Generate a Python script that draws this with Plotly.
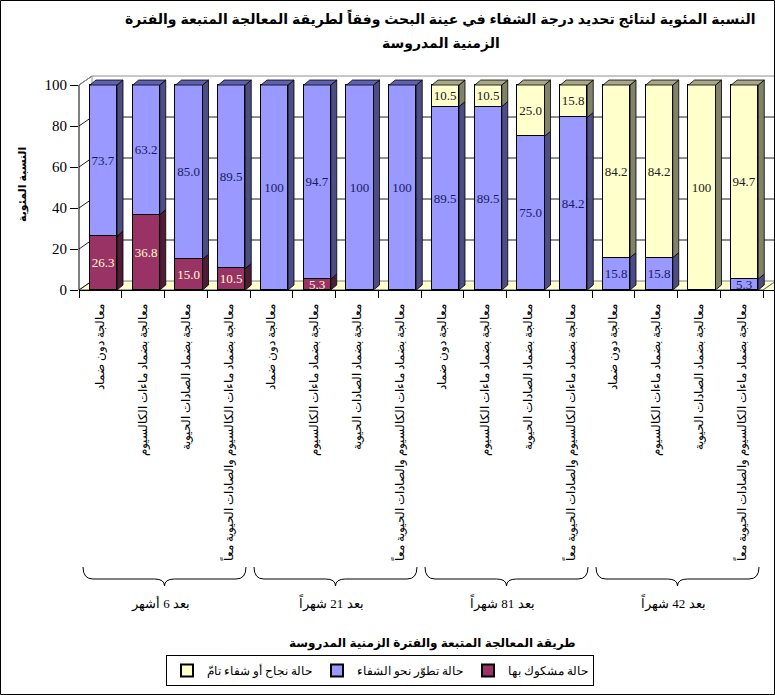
import plotly.graph_objects as go

# ---------------- data ----------------
treatments = [
    "معالجة دون ضماد",
    "معالجة بضماد ماءات الكالسيوم",
    "معالجة بضماد الصادات الحيوية",
    "معالجة بضماد ماءات الكالسيوم والصادات الحيوية معاً",
]
periods = ["بعد 6 أشهر", "بعد 21 شهراً", "بعد 81 شهراً", "بعد 42 شهراً"]
categories = treatments * len(periods)

doubtful = [26.3, 36.8, 15.0, 10.5, 0, 5.3, 0, 0, 0, 0, 0, 0, 0, 0, 0, 0]
progress = [73.7, 63.2, 85.0, 89.5, 100, 94.7, 100, 100, 89.5, 89.5, 75.0, 84.2, 15.8, 15.8, 0, 5.3]
success = [0, 0, 0, 0, 0, 0, 0, 0, 10.5, 10.5, 25.0, 15.8, 84.2, 84.2, 100, 94.7]

series_names = ["حالة مشكوك بها", "حالة تطوّر نحو الشفاء", "حالة نجاح أو شفاء تامّ"]
y_ticks = [0, 20, 40, 60, 80, 100]

title_lines = [
    "النسبة المئوية لنتائج تحديد درجة الشفاء في عينة البحث وفقاً لطريقة المعالجة المتبعة والفترة",
    "الزمنية المدروسة",
]
x_title = "طريقة المعالجة المتبعة والفترة الزمنية المدروسة"
y_title = "النسبة المئوية"

# ---------------- styling ----------------
front_colors = ["#993366", "#9999FF", "#FFFFCC"]
side_colors = ["#4F1C38", "#4D4D85", "#828268"]
top_colors = ["#7A2952", "#6060B0", "#A8A888"]
text_colors = ["#FFFFCC", "#1A1A5C", "#202020"]

W, H = 775, 695
PL, PR, PT, PB = 79, 775, 75, 290  # plot area in pixels
n = len(categories)
px_per_cat = (763 - PL) / n
x_range = [-0.5, -0.5 + (PR - PL) / px_per_cat]
y_top = 104.9
px_per_unit = (PB - PT) / y_top
wdx = 13 / px_per_cat      # wall depth (x units)
wdy = 9 / px_per_unit      # wall depth (y units)
bar_w, bar_off = 0.632, -0.243
sdx = 6 / px_per_cat       # bar depth
sdy = 5 / px_per_unit

SERIF = "Liberation Serif, Times New Roman, DejaVu Serif, serif"
SANS = "Liberation Sans, Arial, DejaVu Sans, sans-serif"


def px2x(px):
    return (px - PL) / (PR - PL)


def py2y(py):
    return (PB - py) / (PB - PT)


def fmt(v):
    if v <= 0:
        return ""
    return "100" if v == 100 else f"{v:.1f}"


fig = go.Figure()
idx = list(range(n))
all_series = [doubtful, progress, success]

for s, vals in enumerate(all_series):
    fig.add_trace(go.Bar(
        x=idx, y=vals, name=series_names[s],
        width=bar_w, offset=bar_off,
        marker=dict(color=front_colors[s], line=dict(color="black", width=1)),
        text=[fmt(v) for v in vals], textposition="inside",
        insidetextanchor="middle", textangle=0, constraintext="none",
        textfont=dict(family=SERIF, size=13, color=text_colors[s]),
        hoverinfo="skip",
    ))

# 3D side and top faces derived from the data
for s in range(3):
    sx, sy, tx, ty = [], [], [], []
    for i in idx:
        base = sum(all_series[k][i] for k in range(s))
        v = all_series[s][i]
        if v <= 0:
            continue
        top = base + v
        xl = i + bar_off
        xr = xl + bar_w
        sx += [xr, xr + sdx, xr + sdx, xr, xr, None]
        sy += [base, base + sdy, top + sdy, top, base, None]
        is_top = all(all_series[k][i] <= 0 for k in range(s + 1, 3))
        if is_top:
            tx += [xl, xl + sdx, xr + sdx, xr, xl, None]
            ty += [top, top + sdy, top + sdy, top, top, None]
    fig.add_trace(go.Scatter(x=sx, y=sy, mode="lines", fill="toself",
                             fillcolor=side_colors[s], line=dict(color="black", width=0.8),
                             hoverinfo="skip", showlegend=False))
    if tx:
        fig.add_trace(go.Scatter(x=tx, y=ty, mode="lines", fill="toself",
                                 fillcolor=top_colors[s], line=dict(color="black", width=0.8),
                                 hoverinfo="skip", showlegend=False))

shapes = []
x_end = x_range[1] + 1
# floor
shapes.append(dict(type="path", xref="x", yref="y", layer="below",
                   path=f"M -0.5,0 L {n-0.5},0 L {n-0.5+wdx},{wdy} L {x_end},{wdy} L {x_end},0 "
                        f"M -0.5,0 L {-0.5+wdx},{wdy} L {n-0.5+wdx},{wdy} L {n-0.5},0 Z",
                   fillcolor="#FFFFCC", line=dict(color="#808080", width=1)))
# back-wall gridlines and left-wall diagonals
for v in y_ticks[1:]:
    shapes.append(dict(type="line", xref="x", yref="y", layer="below",
                       x0=-0.5 + wdx, x1=x_end, y0=v + wdy, y1=v + wdy,
                       line=dict(color="#202020" if v < 100 else "#909090", width=1)))
for v in y_ticks:
    shapes.append(dict(type="line", xref="x", yref="y", layer="below",
                       x0=-0.5, x1=-0.5 + wdx, y0=v, y1=v + wdy,
                       line=dict(color="#202020", width=1)))
shapes.append(dict(type="line", xref="x", yref="y", layer="below",
                   x0=-0.5 + wdx, x1=-0.5 + wdx, y0=wdy, y1=100 + wdy,
                   line=dict(color="#909090", width=1)))
shapes.append(dict(type="line", xref="x", yref="y", layer="below",
                   x0=-0.5 + wdx, x1=-0.5, y0=100 + wdy, y1=100,
                   line=dict(color="#909090", width=1)))
# front-left vertical edge (y axis line)
shapes.append(dict(type="line", xref="paper", yref="y", x0=0, x1=0, y0=0, y1=100,
                   line=dict(color="black", width=1)))
# braces under each period group
y_end, y_mid, y_tip = py2y(567), py2y(579), py2y(586)
q = 10 / px_per_cat
inset = 4 / px_per_cat
for g in range(len(periods)):
    x0 = g * 4 - 0.5 + inset
    x1 = g * 4 + 3.5 - inset
    xc = g * 4 + 1.5
    path = (f"M {x0},{y_end} Q {x0},{y_mid} {x0+q},{y_mid} L {xc-q},{y_mid} "
            f"Q {xc},{y_mid} {xc},{y_tip} Q {xc},{y_mid} {xc+q},{y_mid} "
            f"L {x1-q},{y_mid} Q {x1},{y_mid} {x1},{y_end}")
    shapes.append(dict(type="path", xref="x", yref="paper", path=path,
                       line=dict(color="black", width=1)))
# outer chart frame
shapes.append(dict(type="rect", xref="paper", yref="paper",
                   x0=px2x(0.5), x1=px2x(774.5), y0=py2y(694.5), y1=py2y(0.5),
                   line=dict(color="black", width=1)))

annotations = []
for k, line in enumerate(title_lines):
    annotations.append(dict(text=f"<b>{line}</b>", xref="paper", yref="paper",
                            x=px2x(441), y=py2y(19 + 24 * k), xanchor="center", yanchor="middle",
                            showarrow=False, font=dict(family=SANS, size=14, color="black")))
annotations.append(dict(text=f"<b>{y_title}</b>", xref="paper", yref="paper",
                        x=px2x(22), y=py2y(185), textangle=-90, xanchor="center", yanchor="middle",
                        showarrow=False, font=dict(family=SANS, size=11, color="black")))
annotations.append(dict(text=f"<b>{x_title}</b>", xref="paper", yref="paper",
                        x=px2x(432), y=py2y(643), xanchor="center", yanchor="middle",
                        showarrow=False, font=dict(family=SANS, size=12, color="black")))
for g, p in enumerate(periods):
    annotations.append(dict(text=p, xref="x", yref="paper", x=g * 4 + 1.4, y=py2y(603),
                            xanchor="center", yanchor="middle", showarrow=False,
                            font=dict(family=SERIF, size=13, color="black")))

fig.update_layout(
    width=W, height=H,
    margin=dict(l=PL, r=W - PR, t=PT, b=H - PB, pad=0),
    paper_bgcolor="white", plot_bgcolor="white",
    barmode="stack", bargap=0,
    showlegend=True,
    legend=dict(orientation="h", x=px2x(380), xanchor="center", y=py2y(655), yanchor="top",
                bordercolor="black", borderwidth=1, bgcolor="white", traceorder="reversed",
                font=dict(family=SERIF, size=12, color="black"), itemsizing="constant",
                itemwidth=30),
    xaxis=dict(range=x_range, tickmode="array", tickvals=idx, ticktext=categories,
               tickangle=-90, ticks="", showgrid=False, zeroline=False,
               showline=True, linecolor="black", linewidth=1,
               ticklabelstandoff=8,
               tickfont=dict(family=SERIF, size=12, color="black"),
               minor=dict(tickmode="array", tickvals=[i - 0.5 for i in range(n + 1)],
                          ticks="outside", ticklen=7, tickcolor="black", showgrid=False)),
    yaxis=dict(range=[0, y_top], tickmode="array", tickvals=y_ticks, ticks="outside",
               ticklen=8, tickcolor="black", showgrid=False, zeroline=False, showline=False,
               tickfont=dict(family=SERIF, size=15, color="black")),
    shapes=shapes, annotations=annotations,
)

fig.write_html("out.html")
